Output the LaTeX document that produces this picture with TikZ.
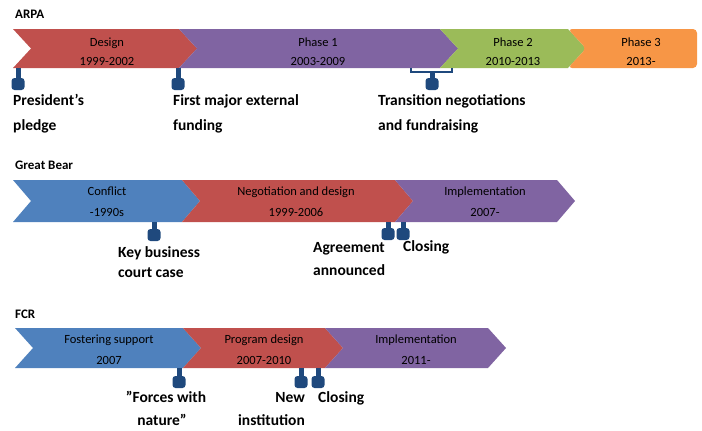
\documentclass[tikz,border=0pt]{standalone}
\usepackage{fontspec}
\setmainfont{Carlito}
\definecolor{cred}{HTML}{C0504D}
\definecolor{cpurple}{HTML}{8064A2}
\definecolor{cgreen}{HTML}{9BBB59}
\definecolor{corange}{HTML}{F79646}
\definecolor{cblue}{HTML}{4F81BD}
\definecolor{pinblue}{HTML}{1F497D}
\tikzset{
  seg/.style={anchor=base, inner sep=0, font=\fontsize{12.5}{14}\selectfont, text=black},
  evl/.style={anchor=base west, inner sep=0, font=\bfseries\fontsize{15.5}{17}\selectfont},
  evr/.style={anchor=base east, inner sep=0, font=\bfseries\fontsize{15.5}{17}\selectfont},
  evc/.style={anchor=base, inner sep=0, font=\bfseries\fontsize{15.5}{17}\selectfont},
  ttl/.style={anchor=base west, inner sep=0, font=\bfseries\fontsize{13}{15}\selectfont},
  pinstem/.style={fill=pinblue},
  pinblob/.style={fill=pinblue, rounded corners=3pt},
  bracket/.style={draw=pinblue, line width=2.5pt}
}
% chevron: #1 colour, #2 x start, #3 x end, #4 top, #5 bottom
\newcommand{\chev}[5]{%
  \fill[#1] (#2,#4) -- (#3,#4) -- ({#3+18},{(#4+#5)/2}) -- (#3,#5) -- (#2,#5) -- ({#2+18},{(#4+#5)/2}) -- cycle;}
% pin: #1 x, #2 bar bottom, #3 blob top
\newcommand{\pinmark}[3]{%
  \fill[pinstem] ({#1-2.5},#2) rectangle ({#1+2.5},{#3+2});
  \fill[pinblob] ({#1-6.5},#3) rectangle ({#1+6.5},{#3+12});}
\begin{document}
\begin{tikzpicture}[x=1pt,y=-1pt]
\useasboundingbox (0,0) rectangle (702,431);

% ---------- ARPA ----------
\node[ttl] (t1) at (15,18) {ARPA};
\chev{cred}{13}{179}{29}{68}
\chev{cpurple}{179}{440}{29}{68}
\chev{cgreen}{440}{568}{29}{68}
\fill[corange, rounded corners=4pt] (568,29) -- (697,29) -- (697,68) -- (568,68) -- (586,48.5) -- cycle;
\node[seg] (a1) at (107,46) {Design};
\node[seg] (a1y) at (107,65) {1999-2002};
\node[seg] (a2) at (318,46) {Phase 1};
\node[seg] (a2y) at (318,65) {2003-2009};
\node[seg] (a3) at (513,46) {Phase 2};
\node[seg] (a3y) at (513,65) {2010-2013};
\node[seg] (a4) at (641,46) {Phase 3};
\node[seg] (a4y) at (641,65) {2013-};

\pinmark{18}{68}{78}
\pinmark{178}{68}{78}
\draw[bracket] (411,68) -- (411,72) -- (452,72) -- (452,68);
\pinmark{432}{72}{78}

\node[evl] (e1a) at (13,105) {President's};
\node[evl] (e1b) at (13,130) {pledge};
\node[evl] (e2a) at (173,105) {First major external};
\node[evl] (e2b) at (173,130) {funding};
\node[evl] (e3a) at (378,105) {Transition negotiations};
\node[evl] (e3b) at (378,130) {and fundraising};

% ---------- Great Bear ----------
\node[ttl] (t2) at (15,169) {Great Bear};
\chev{cblue}{13}{182}{180}{222}
\chev{cred}{182}{395}{180}{222}
\chev{cpurple}{395}{557}{180}{222}
\node[seg] (b1) at (107,195) {Conflict};
\node[seg] (b1y) at (107,216) {-1990s};
\node[seg] (b2) at (296,195) {Negotiation and design};
\node[seg] (b2y) at (296,216) {1999-2006};
\node[seg] (b3) at (485,195) {Implementation};
\node[seg] (b3y) at (485,216) {2007-};

\pinmark{154}{222}{229}
\pinmark{388}{222}{228}
\pinmark{403}{222}{228}

\node[evl] (f1a) at (118,257) {Key business};
\node[evl] (f1b) at (118,277) {court case};
\node[evl] (f2a) at (313,252) {Agreement};
\node[evl] (f2b) at (313,275) {announced};
\node[evl] (f3a) at (403,251) {Closing};

% ---------- FCR ----------
\node[ttl] (t3) at (15,318) {FCR};
\chev{cblue}{15}{183}{328}{368}
\chev{cred}{183}{325}{328}{368}
\chev{cpurple}{325}{488}{328}{368}
\node[seg] (c1) at (109,343) {Fostering support};
\node[seg] (c1y) at (109,364) {2007};
\node[seg] (c2) at (264,343) {Program design};
\node[seg] (c2y) at (264,364) {2007-2010};
\node[seg] (c3) at (416,343) {Implementation};
\node[seg] (c3y) at (416,364) {2011-};

\pinmark{179}{368}{376}
\pinmark{301}{368}{376}
\pinmark{318}{368}{376}

\node[evc] (g1a) at (166,402) {"Forces with};
\node[evc] (g1b) at (162,425) {nature"};
\node[evr] (g2a) at (305,402) {New};
\node[evr] (g2b) at (305,425) {institution};
\node[evl] (g3a) at (318,402) {Closing};
\end{tikzpicture}
\end{document}
